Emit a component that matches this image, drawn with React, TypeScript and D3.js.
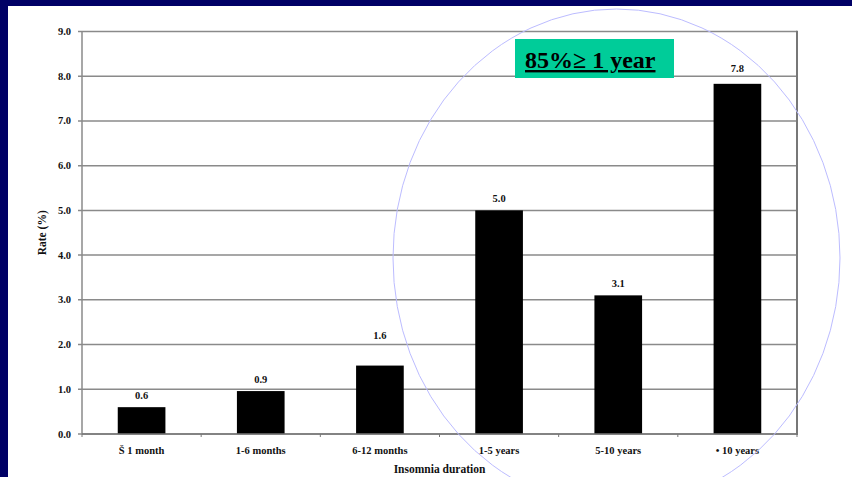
import React from "react";
import * as d3 from "d3";

const categories = ["Š 1 month", "1-6 months", "6-12 months", "1-5 years", "5-10 years", "• 10 years"];
const values = [0.6, 0.96, 1.53, 5.0, 3.1, 7.83];
const valueLabels = ["0.6", "0.9", "1.6", "5.0", "3.1", "7.8"];
const labelLift = [12, 12, 31, 12, 12, 16];
const yTicks = [0, 1, 2, 3, 4, 5, 6, 7, 8, 9];

const W = 852, H = 477;
const M = { left: 82, right: 797, top: 31.5, bottom: 434 };
const font = "'Liberation Serif', 'Times New Roman', serif";

export default function App() {
  const x = d3.scaleBand<string>().domain(categories).range([M.left, M.right]).paddingInner(0).paddingOuter(0);
  const y = d3.scaleLinear().domain([0, 9]).range([M.bottom, M.top]);
  const bw = x.bandwidth() * 0.4;
  const boundaries = categories.map((c) => x(c)!).concat([M.right]);

  return (
    <div style={{ position: "absolute", left: 0, top: 0 }}>
      <svg width={W} height={H} style={{ display: "block" }}>
        <rect x={0} y={0} width={W} height={H} fill="#000066" />
        <rect x={8} y={6} width={W - 8} height={H - 6} fill="#ffffff" />
        {yTicks.map((t) => (
          <g key={t}>
            <line x1={M.left - 4} x2={M.right} y1={y(t)} y2={y(t)} stroke="#8a8a8a" strokeWidth={1.5} />
            <text x={71} y={y(t) + 3.5} textAnchor="end" fontFamily={font} fontWeight="bold" fontSize={10.5} fill="#111">
              {t.toFixed(1)}
            </text>
          </g>
        ))}
        <line x1={M.left} x2={M.left} y1={M.top} y2={M.bottom} stroke="#8a8a8a" strokeWidth={1.5} />
        <line x1={M.right} x2={M.right} y1={M.top - 0.7} y2={M.bottom + 1} stroke="#777" strokeWidth={2} />
        {boundaries.map((b, i) => (
          <line key={i} x1={b} x2={b} y1={M.bottom} y2={M.bottom + 3} stroke="#777" strokeWidth={1} />
        ))}
        {categories.map((c, i) => {
          const cx = x(c)! + x.bandwidth() / 2;
          return (
            <g key={c}>
              <rect x={cx - bw / 2} y={y(values[i])} width={bw} height={M.bottom - y(values[i])} fill="#000" />
              <text x={cx} y={y(values[i]) - labelLift[i] + 4} textAnchor="middle" fontFamily={font} fontWeight="bold" fontSize={10.5} fill="#111">
                {valueLabels[i]}
              </text>
              <text x={cx} y={454} textAnchor="middle" fontFamily={font} fontWeight="bold" fontSize={10.5} fill="#111">
                {c}
              </text>
            </g>
          );
        })}
        <line x1={M.left} x2={M.right} y1={M.bottom} y2={M.bottom} stroke="#777" strokeWidth={1.5} />
        <text x={(M.left + M.right) / 2} y={473} textAnchor="middle" fontFamily={font} fontWeight="bold" fontSize={11.5} fill="#111">
          Insomnia duration
        </text>
        <text transform={`translate(46, ${(M.top + M.bottom) / 2}) rotate(-90)`} textAnchor="middle" fontFamily={font} fontWeight="bold" fontSize={11.5} fill="#111">
          Rate (%)
        </text>
        <rect x={515} y={39} width={159} height={39} fill="#00cc99" />
        <text x={525} y={68} fontFamily={font} fontWeight="bold" fontSize={24} fill="#000" textDecoration="underline">
          85%≥ 1 year
        </text>
        <ellipse cx={616.5} cy={258} rx={223.5} ry={249} fill="none" stroke="#bcbcff" strokeWidth={1} />
      </svg>
    </div>
  );
}
